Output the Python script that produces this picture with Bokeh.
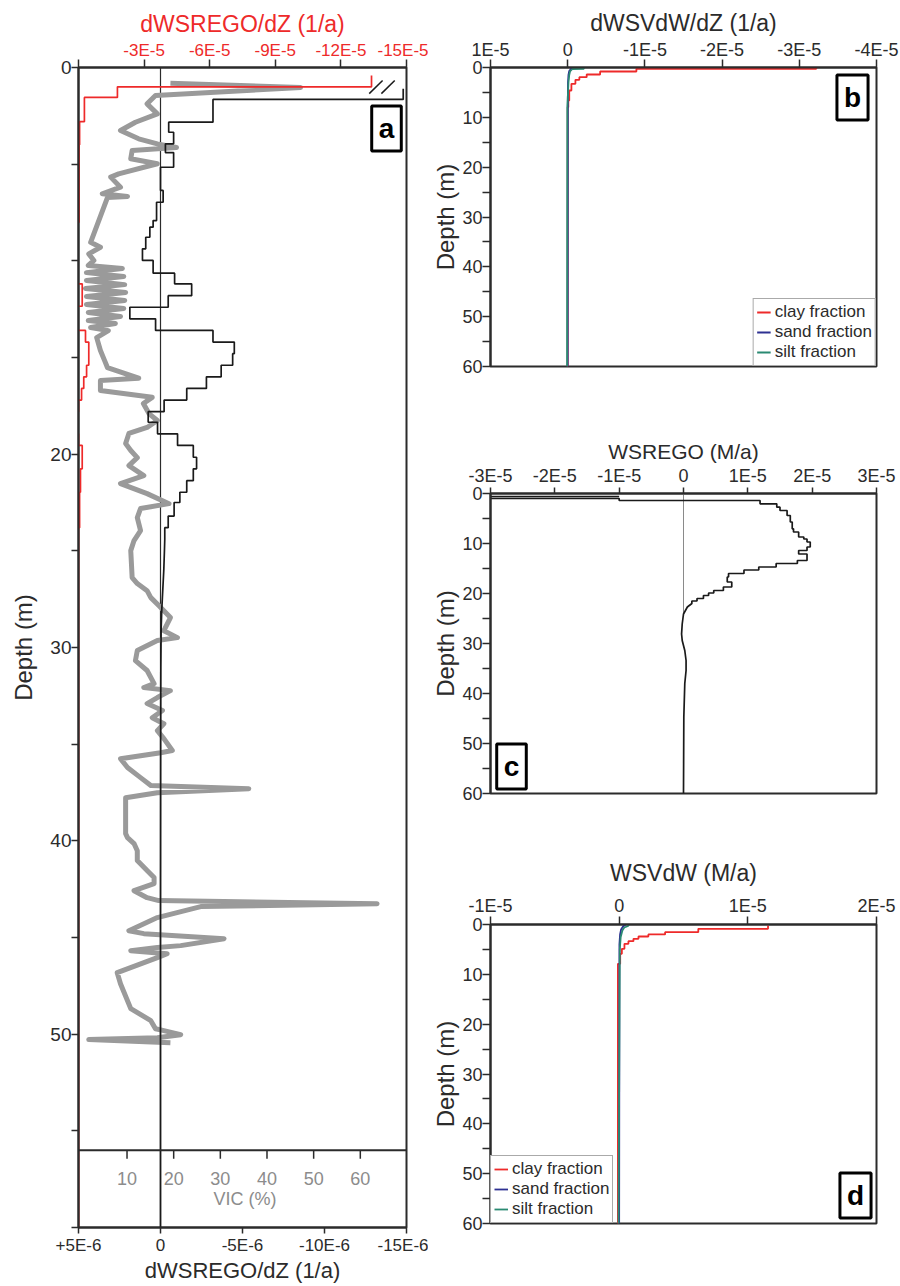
from bokeh.plotting import figure
from bokeh.models import Range1d, LinearAxis, FixedTicker, CustomJSTickFormatter, Span, Label
from bokeh.layouts import row, column
from bokeh.embed import file_html
from bokeh.resources import INLINE
from bokeh.core.properties import value

# ---------------- DATA ----------------
# Panel a: dWS_REGO/dZ (bottom axis, 1/a), step profile (depth of top of each step, value)
A_STEP_DEPTH = [1.10, 1.65, 2.83, 3.35, 3.95, 4.40, 5.16, 6.36, 6.97, 7.92, 8.26, 8.78, 9.38, 9.98,
                10.64, 11.19, 11.80, 12.40, 13.00, 13.60, 14.20, 14.80, 15.40, 16.00, 16.60, 17.20,
                17.80, 18.35, 18.95, 19.55, 20.16, 20.76, 21.37, 21.97, 22.50, 23.20, 23.80]
A_STEP_VAL = [-14.8e-6, -3.2e-6, -0.5e-6, -0.8e-6, -0.3e-6, -0.8e-6, 0.0, -0.16e-6, 0.24e-6, 0.45e-6,
              0.65e-6, 0.90e-6, 1.10e-6, 0.45e-6, -0.86e-6, -1.90e-6, -0.47e-6, 1.87e-6, 0.30e-6,
              -3.20e-6, -4.50e-6, -4.40e-6, -3.70e-6, -2.80e-6, -1.60e-6, -0.22e-6, 0.75e-6, 0.18e-6,
              -1.04e-6, -2.00e-6, -2.20e-6, -2.00e-6, -1.60e-6, -1.18e-6, -0.83e-6, -0.47e-6, -0.26e-6]
A_STEP_END = 24.40
A_TAIL_DEPTH = [24.4, 25.0, 26.0, 27.0, 28.0, 29.0, 31.0, 35.0, 45.0, 60.0]
A_TAIL_VAL = [-0.26e-6, -0.24e-6, -0.20e-6, -0.14e-6, -0.08e-6, -0.04e-6, -0.02e-6, -0.01e-6, 0.0, 0.0]

# Panel a: dWS_REGO/dZ (top red axis, 1/a)
A_RED_DEPTH = [0.41, 1.00, 1.55, 2.80, 4.0, 8.0, 11.19, 12.35, 13.0, 13.6, 14.2, 15.4, 16.0, 16.6,
               17.2, 17.8, 18.95, 19.55, 20.76, 21.97, 23.8]
A_RED_VAL = [-13.4e-5, -1.78e-5, -0.27e-5, -0.05e-5, -0.03e-5, 0.02e-5, -0.17e-5, 0.24e-5, 0.05e-5,
             -0.32e-5, -0.47e-5, -0.37e-5, -0.24e-5, -0.14e-5, 0.0, 0.12e-5, 0.0, -0.17e-5,
             -0.09e-5, -0.05e-5, 0.0]
A_RED_END = 60.0

# Panel a: VIC (%)
A_VIC_DEPTH = [0.81, 1.03, 1.45, 1.88, 2.40, 2.83, 3.26, 3.69, 3.95, 4.14, 4.29, 4.72, 4.98, 5.50,
               5.67, 6.19, 6.53, 6.67, 6.73, 9.04, 9.30, 9.64, 9.98, 10.24, 10.40, 10.61, 10.81,
               11.02, 11.23, 11.43, 11.64, 11.85, 12.05, 12.26, 12.47, 12.67, 12.88, 13.09, 13.24,
               13.45, 13.61, 13.97, 14.64, 15.16, 15.52, 16.07, 16.19, 16.71, 17.06, 17.38, 17.90,
               18.26, 18.62, 18.93, 19.45, 19.81, 20.18, 20.59, 21.11, 21.52, 22.04, 22.56, 22.81,
               23.28, 23.95, 24.47, 24.99, 26.38, 26.69, 27.06, 27.42, 27.83, 28.45, 29.13, 29.49,
               29.64, 30.16, 30.68, 31.19, 31.87, 32.07, 32.23, 32.59, 32.90, 33.26, 33.63, 33.94,
               34.30, 34.71, 35.33, 35.44, 35.75, 36.21, 36.73, 37.14, 37.30, 37.51, 37.77, 39.63,
               39.83, 40.14, 40.51, 41.02, 41.54, 41.90, 42.21, 42.58, 42.94, 43.09, 43.25, 43.40,
               43.97, 44.65, 44.80, 45.06, 45.42, 45.52, 45.68, 45.84, 46.04, 46.82, 47.39, 48.68,
               49.30, 49.72, 49.82, 50.03, 50.18, 50.28, 50.44]
A_VIC = [19.3, 47.2, 16.1, 14.3, 16.5, 11.8, 8.6, 12.5, 16.5, 20.6, 11.1, 10.8, 16.5, 8.2,
         6.5, 8.6, 4.7, 10.1, 5.8, 2.2, 4.3, 1.8, 2.9, 1.7, 9.0, 1.3, 9.3,
         1.3, 9.5, 1.1, 9.7, 1.3, 9.5, 1.3, 9.3, 1.7, 8.6, 1.7, 7.5,
         2.2, 6.0, 3.5, 4.3, 5.2, 5.8, 12.5, 4.3, 4.3, 15.4, 13.5, 14.7,
         16.5, 14.3, 10.4, 9.7, 10.8, 12.2, 10.4, 13.6, 8.6, 14.3, 19.0, 12.9,
         12.2, 12.9, 11.5, 10.8, 11.1, 12.2, 14.3, 15.1, 16.8, 19.3, 17.9, 20.8,
         16.5, 12.2, 11.8, 14.3, 15.8, 13.6, 19.3, 16.5, 14.3, 17.6, 15.4, 17.9,
         16.5, 17.9, 19.7, 17.2, 8.6, 10.1, 12.9, 15.1, 36.1, 16.5, 9.7, 9.7,
         10.1, 11.5, 12.2, 12.2, 14.3, 15.8, 15.8, 11.5, 14.3, 16.8, 63.6, 25.8,
         16.5, 10.4, 13.6, 30.8, 21.5, 16.5, 10.8, 18.6, 16.5, 7.9, 8.6, 10.8,
         15.1, 16.1, 17.9, 21.5, 16.5, 1.8, 19.3]

# Panel b: dWS_VdW/dZ (1/a)
B_CLAY_DEPTH = [0.0, 0.26, 0.80, 1.40, 1.95, 2.47, 3.27, 4.62, 6.63, 8.0]
B_CLAY_VAL = [-3.22e-5, -0.89e-5, -0.42e-5, -0.246e-5, -0.151e-5, -0.10e-5, -0.048e-5, -0.02e-5,
              -0.008e-5, 0.0]
B_CLAY_END = 60.0
B_SAND_DEPTH = [0.0, 0.3, 0.7, 1.5, 3.0, 6.0, 60.0]
B_SAND_VAL = [-0.06e-5, -0.04e-5, -0.02e-5, -0.01e-5, -0.004e-5, -0.002e-5, 0.0]
B_SILT_DEPTH = [0.0, 0.25, 0.3, 0.8, 1.5, 3.0, 8.0, 60.0]
B_SILT_VAL = [-0.21e-5, -0.21e-5, -0.06e-5, -0.03e-5, -0.02e-5, -0.01e-5, 0.005e-5, 0.008e-5]

# Panel c: WS_REGO (M/a)
C_HEAD_DEPTH = [0.6, 0.6, 1.0]
C_HEAD_VAL = [-1.0e-5, -3.6e-5, -3.6e-5]
C_STEP_DEPTH = [1.0, 1.4, 2.07, 2.73, 3.4, 4.4, 5.7, 7.07, 7.7, 8.7, 9.1, 9.7, 10.7, 11.4, 12.1,
                13.4, 14.0, 14.7, 15.3, 16.0, 16.7, 17.7, 18.7, 19.4, 19.9, 20.4, 21.0, 21.5]
C_STEP_VAL = [-1.0e-5, 1.19e-5, 1.45e-5, 1.50e-5, 1.61e-5, 1.66e-5, 1.69e-5, 1.71e-5, 1.79e-5,
              1.87e-5, 1.92e-5, 1.97e-5, 1.92e-5, 1.79e-5, 1.92e-5, 1.77e-5, 1.44e-5, 1.17e-5,
              0.94e-5, 0.70e-5, 0.68e-5, 0.75e-5, 0.62e-5, 0.47e-5, 0.39e-5, 0.31e-5, 0.21e-5,
              0.13e-5]
C_STEP_END = 22.0
C_TAIL_DEPTH = [22.0, 22.7, 24.1, 26.1, 28.1, 29.4, 31.4, 33.4, 35.4, 38.0, 44.7, 60.0]
C_TAIL_VAL = [0.13e-5, 0.06e-5, 0.0, -0.02e-5, -0.03e-5, -0.02e-5, 0.02e-5, 0.04e-5, 0.04e-5,
              0.02e-5, 0.005e-5, 0.0]

# Panel d: WS_VdW (M/a)
D_CLAY_DEPTH = [0.2, 0.86, 1.55, 2.0, 2.41, 2.87, 3.35, 3.88, 4.88, 5.88, 7.89]
D_CLAY_VAL = [1.157e-5, 0.615e-5, 0.357e-5, 0.227e-5, 0.15e-5, 0.111e-5, 0.072e-5, 0.041e-5,
              0.021e-5, 0.008e-5, -0.01e-5]
D_CLAY_END = 60.0
D_SAND_DEPTH = [0.0, 0.4, 1.0, 2.0, 4.0, 60.0]
D_SAND_VAL = [0.05e-5, 0.03e-5, 0.015e-5, 0.007e-5, 0.002e-5, 0.0]
D_SILT_DEPTH = [0.0, 0.3, 0.6, 1.2, 2.5, 5.0, 60.0]
D_SILT_VAL = [0.075e-5, 0.07e-5, 0.04e-5, 0.025e-5, 0.012e-5, 0.005e-5, -0.005e-5]

# Tick labels / ticks
DEPTH_TICKS = [0, 5, 10, 15, 20, 25, 30, 35, 40, 45, 50, 55, 60]
A_DEPTH_SHOWN = [0, 20, 30, 40, 50]
BCD_DEPTH_SHOWN = [0, 10, 20, 30, 40, 50, 60]
A_BOTTOM_TICKS = [5e-6, 0.0, -5e-6, -10e-6, -15e-6]
A_TOP_TICKS = [0.0, -3e-5, -6e-5, -9e-5, -12e-5, -15e-5]
VIC_TICKS = [10, 20, 30, 40, 50, 60]
B_TICKS = [1e-5, 0.0, -1e-5, -2e-5, -3e-5, -4e-5]
C_TICKS = [-3e-5, -2e-5, -1e-5, 0.0, 1e-5, 2e-5, 3e-5]
D_TICKS = [-1e-5, 0.0, 1e-5, 2e-5]

# ---------------- STYLE ----------------
FONT = "Liberation Sans"
INK = "#2b2b2b"
RED = "#ee2a2a"
GRAY = "#9a9a9a"
VICGRAY = "#8c8c8c"
BLUE = "#2e3192"
TEAL = "#2a8a72"

A_WIDTH = 428
COL_WIDTH = 900 - A_WIDTH


def step_xy(depths, vals, end):
    bounds = list(depths) + [end]
    xs, ys = [], []
    for i, v in enumerate(vals):
        xs += [v, v]
        ys += [bounds[i], bounds[i + 1]]
    return xs, ys


def sci_fmt(unit, suffix, plus="", zero="0"):
    return CustomJSTickFormatter(args=dict(unit=unit, suffix=suffix, plus=plus, zero=zero), code="""
        const m = Math.round(tick / unit);
        if (m === 0) { return zero; }
        return (m > 0 ? plus : "") + m + suffix;
    """)


def depth_fmt(shown):
    return CustomJSTickFormatter(args=dict(shown=shown), code="""
        const v = Math.round(tick);
        return shown.indexOf(v) >= 0 ? String(v) : "";
    """)


def style_axis(ax, tick_out, lsize, tsize, lcolor=INK, tcolor=INK, ls=2, als=4):
    ax.major_tick_out = tick_out
    ax.major_tick_in = 0
    ax.minor_tick_out = 0
    ax.minor_tick_in = 0
    ax.major_tick_line_color = INK
    ax.major_tick_line_width = 1.5
    ax.axis_line_color = INK
    ax.axis_line_width = 2
    ax.major_label_text_font = FONT
    ax.major_label_text_font_size = lsize
    ax.major_label_text_color = lcolor
    ax.axis_label_text_font = FONT
    ax.axis_label_text_font_size = tsize
    ax.axis_label_text_color = tcolor
    ax.axis_label_text_font_style = "normal"
    ax.major_label_standoff = ls
    ax.axis_label_standoff = als


def base_fig(**kw):
    p = figure(output_backend="svg", toolbar_location=None, y_range=Range1d(60, 0),
               background_fill_color="white", border_fill_color="white", min_border=0, **kw)
    p.xgrid.grid_line_color = None
    p.ygrid.grid_line_color = None
    p.outline_line_color = INK
    p.outline_line_width = 2
    p.outline_line_alpha = 1
    return p


def box_label(p, text, x, y, xo, yo, **kw):
    lab = Label(x=x, y=y, x_offset=xo, y_offset=yo, text=text, text_font=FONT,
                text_font_size="28px", text_font_style="bold", text_color="black",
                text_align="center", text_baseline="middle",
                border_line_color="black", border_line_width=3,
                background_fill_color="white", padding=7, **kw)
    p.add_layout(lab)


def depth_axis(p, shown, tick_out, lsize, als):
    ay = p.yaxis[0]
    ay.ticker = FixedTicker(ticks=DEPTH_TICKS)
    ay.formatter = depth_fmt(shown)
    ay.axis_label = "Depth (m)"
    style_axis(ay, tick_out, lsize, "24px", ls=0, als=als)


# ---------------- PANEL A ----------------
pa = base_fig(width=A_WIDTH, height=1286, x_range=Range1d(5e-6, -15e-6),
              min_border_left=78, min_border_right=A_WIDTH - 406, min_border_top=67,
              min_border_bottom=59)
pa.extra_x_ranges = {"red": Range1d(0, -15e-5), "vic": Range1d(-0.4, 69.9)}

ax_b = pa.xaxis[0]
ax_b.ticker = FixedTicker(ticks=A_BOTTOM_TICKS)
ax_b.formatter = sci_fmt(1e-6, "E-6", plus="+")
ax_b.axis_label = "dWSREGO/dZ (1/a)"
style_axis(ax_b, 6, "17px", "22px", ls=2, als=0)

ax_t = LinearAxis(x_range_name="red", ticker=FixedTicker(ticks=A_TOP_TICKS),
                  formatter=sci_fmt(1e-5, "E-5", zero=""), axis_label="dWSREGO/dZ (1/a)")
style_axis(ax_t, 8, "17px", "23px", lcolor=RED, tcolor=RED, ls=0, als=1)
pa.add_layout(ax_t, "above")

depth_axis(pa, A_DEPTH_SHOWN, 7, "19px", 10)

pa.add_layout(Span(location=0, dimension="height", line_color=INK, line_width=1.2,
                   level="underlay"))

pa.line(A_VIC, A_VIC_DEPTH, x_range_name="vic", line_color=GRAY, line_width=5,
        line_join="round")

bx, by = step_xy(A_STEP_DEPTH, A_STEP_VAL, A_STEP_END)
pa.line(bx + A_TAIL_VAL, by + A_TAIL_DEPTH, line_color="#1a1a1a", line_width=1.7)

rx, ry = step_xy(A_RED_DEPTH, A_RED_VAL, A_RED_END)
pa.line(rx, ry, x_range_name="red", line_color=RED, line_width=1.7)

# axis-break marks on the off-scale first step
brk_x0 = [A_STEP_VAL[0] * 0.86, A_STEP_VAL[0] * 0.91]
brk_x1 = [A_STEP_VAL[0] * 0.915, A_STEP_VAL[0] * 0.965]
pa.segment(x0=brk_x0, y0=[1.35, 1.35], x1=brk_x1, y1=[0.67, 0.67], line_color="#1a1a1a",
           line_width=1.5)

# inner VIC axis
VIC_AXIS_DEPTH = 56.0
pa.add_layout(Span(location=VIC_AXIS_DEPTH, dimension="width", line_color=INK, line_width=2))
pa.segment(x0=VIC_TICKS, y0=[VIC_AXIS_DEPTH] * len(VIC_TICKS), x1=VIC_TICKS,
           y1=[VIC_AXIS_DEPTH + 0.45] * len(VIC_TICKS), x_range_name="vic",
           line_color=INK, line_width=1.5)
pa.text(x=VIC_TICKS, y=[VIC_AXIS_DEPTH + 1.45] * len(VIC_TICKS),
        text=[str(t) for t in VIC_TICKS], x_range_name="vic",
        text_font=value(FONT), text_font_size=value("18px"), text_color=VICGRAY,
        text_align="center", text_baseline="middle")
pa.add_layout(Label(x=35.3, y=VIC_AXIS_DEPTH + 2.5, x_range_name="vic", text="VIC (%)",
                    text_font=FONT, text_font_size="18px", text_color=VICGRAY,
                    text_align="center", text_baseline="middle"))

box_label(pa, "a", -15e-6, 0, -20, -61)

# ---------------- RIGHT COLUMN (frames are aligned by the column layout) ----------------
COL_LEFT = 62
COL_RIGHT = 24

pb = base_fig(width=COL_WIDTH, height=430, x_range=Range1d(1e-5, -4e-5), x_axis_location="above",
              min_border_left=COL_LEFT, min_border_right=COL_RIGHT, min_border_top=67,
              min_border_bottom=64)
axb = pb.xaxis[0]
axb.ticker = FixedTicker(ticks=B_TICKS)
axb.formatter = sci_fmt(1e-5, "E-5")
axb.axis_label = "dWSVdW/dZ (1/a)"
style_axis(axb, 8, "18px", "23px", ls=0, als=1)
depth_axis(pb, BCD_DEPTH_SHOWN, 8, "18px", 0)

cx, cy = step_xy(B_CLAY_DEPTH, B_CLAY_VAL, B_CLAY_END)
pb.line(cx, cy, line_color=RED, line_width=1.8, legend_label="clay fraction")
pb.line(B_SAND_VAL, B_SAND_DEPTH, line_color=BLUE, line_width=1.8, legend_label="sand fraction")
pb.line(B_SILT_VAL, B_SILT_DEPTH, line_color=TEAL, line_width=1.8, legend_label="silt fraction")
box_label(pb, "b", -4e-5, 0, -24, -30)

pc = base_fig(width=COL_WIDTH, height=420, x_range=Range1d(-3e-5, 3e-5), x_axis_location="above",
              min_border_left=COL_LEFT, min_border_right=COL_RIGHT, min_border_top=63,
              min_border_bottom=57)
axc = pc.xaxis[0]
axc.ticker = FixedTicker(ticks=C_TICKS)
axc.formatter = sci_fmt(1e-5, "E-5")
axc.axis_label = "WSREGO (M/a)"
style_axis(axc, 6, "18px", "21px", ls=2, als=0)
depth_axis(pc, BCD_DEPTH_SHOWN, 8, "18px", 0)
pc.segment(x0=[0.0], y0=[0.0], x1=[0.0], y1=[C_TAIL_DEPTH[2]], line_color="#8a8a8a",
           line_width=1, level="underlay")
sx, sy = step_xy(C_STEP_DEPTH, C_STEP_VAL, C_STEP_END)
pc.line(C_HEAD_VAL + sx + C_TAIL_VAL, C_HEAD_DEPTH + sy + C_TAIL_DEPTH,
        line_color="#1a1a1a", line_width=1.7)
box_label(pc, "c", -3e-5, 60, 21, 27)

pd_ = base_fig(width=COL_WIDTH, height=436, x_range=Range1d(-1e-5, 2e-5), x_axis_location="above",
               min_border_left=COL_LEFT, min_border_right=COL_RIGHT, min_border_top=74,
               min_border_bottom=63)
axd = pd_.xaxis[0]
axd.ticker = FixedTicker(ticks=D_TICKS)
axd.formatter = sci_fmt(1e-5, "E-5")
axd.axis_label = "WSVdW (M/a)"
style_axis(axd, 8, "18px", "23px", ls=1, als=7)
depth_axis(pd_, BCD_DEPTH_SHOWN, 8, "18px", 0)
dx, dy = step_xy(D_CLAY_DEPTH, D_CLAY_VAL, D_CLAY_END)
pd_.line(dx, dy, line_color=RED, line_width=1.8, legend_label="clay fraction")
pd_.line(D_SAND_VAL, D_SAND_DEPTH, line_color=BLUE, line_width=1.8, legend_label="sand fraction")
pd_.line(D_SILT_VAL, D_SILT_DEPTH, line_color=TEAL, line_width=1.8, legend_label="silt fraction")
box_label(pd_, "d", 2e-5, 60, -21, 28)


def style_legend(p, loc):
    lg = p.legend[0]
    lg.location = loc
    lg.margin = 0
    lg.padding = 3
    lg.spacing = 0
    lg.label_text_font = FONT
    lg.label_text_font_size = "17px"
    lg.label_text_color = INK
    lg.label_height = 20
    lg.glyph_height = 20
    lg.glyph_width = 14
    lg.label_standoff = 4
    lg.border_line_color = "#555555"
    lg.border_line_width = 1
    lg.background_fill_color = "white"
    lg.background_fill_alpha = 1


style_legend(pb, "bottom_right")
style_legend(pd_, "bottom_left")

layout = row(pa, column(pb, pc, pd_))
open("out.html", "w").write(file_html(layout, INLINE, "chart"))
